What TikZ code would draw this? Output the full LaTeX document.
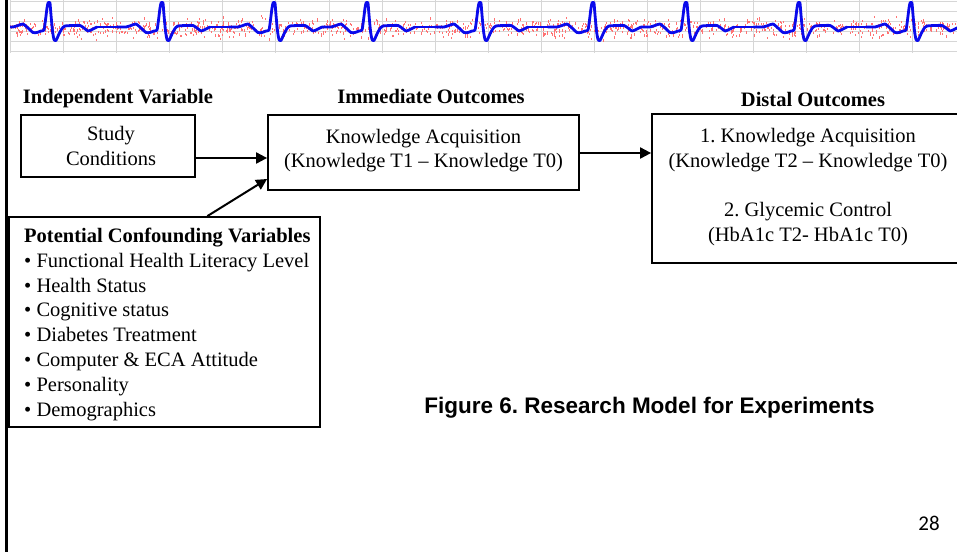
\documentclass[tikz,border=0pt]{standalone}
\usepackage{fontspec}
\setmainfont{Liberation Serif}
\newfontfamily\capfont{Liberation Sans}
\newfontfamily\numfont{Carlito}
\usetikzlibrary{arrows.meta,calc}
\frenchspacing
\begin{document}
\frenchspacing
\begin{tikzpicture}[x=1pt,y=-1pt,
  box/.style={draw=black,line width=1.8pt,inner sep=0pt,fill=none},
  txt/.style={font=\fontsize{20.5}{25}\selectfont,inner sep=0pt},
  head/.style={font=\fontsize{20.5}{25}\selectfont\bfseries,inner sep=0pt},
  arr/.style={line width=2pt,-{Triangle[length=11pt,width=11pt]}},
  ecg/.style={color={rgb,255:red,10;green,10;blue,235},line width=2.8pt,line join=round,line cap=round},
  grid/.style={draw=black!16,line width=0.9pt},
  noise/.style={fill=red!55}]
\clip (0,0) rectangle (957,552);
\fill[white] (0,0) rectangle (957,552);
% ---------- ECG banner ----------
\begin{scope}
\clip (10,0) rectangle (957,53);
\foreach \yy in {1,11,21,31,41,51} {\draw[grid] (10,\yy) -- (957,\yy);}
\foreach \t in {0,318.5,637} {
  \foreach \o in {10.5,63.5,116.5,169.5,222.5,275.5} {\draw[grid] ({\t+\o},0) -- ({\t+\o},53);}
}
\pgfmathsetseed{42}
\foreach \i in {1,...,1300} {
  \pgfmathsetmacro\xx{10+947*rnd}
  \pgfmathsetmacro\yy{27+9*(rnd+rnd+rnd-1.5)}
  \fill[noise] (\xx,\yy) rectangle ++(1,2.2);
}
\foreach \p in {49,162,274,367,480,593,686,799,911} {
  \draw[ecg] plot[smooth,tension=0.35] coordinates {
    ({\p-45},27) ({\p-36},27) ({\p-31},25.5) ({\p-26},24) ({\p-21},28) ({\p-16},32.5)
    ({\p-12},32.5) ({\p-8},31) ({\p-5},30) ({\p-3.5},20) ({\p-2},8) ({\p-1},3) ({\p},2.2)
    ({\p+1},3) ({\p+2},15) ({\p+3.5},31) ({\p+5},39.5) ({\p+7},40.5) ({\p+10},34)
    ({\p+13},28.5) ({\p+16},26) ({\p+24},25.5) ({\p+31},25.5) ({\p+35},28) ({\p+39},31)
    ({\p+43},29.5) ({\p+48},27)};
}
\foreach \a/\b in {97/117,210/229,415/435,528/548,734/754,847/866} {\draw[ecg] (\a,27) -- (\b,27);}
\end{scope}
% left rule
\draw[line width=2.6pt] (6.5,0) -- (6.5,552);
% ---------- headings ----------
\node[head,anchor=base] (h1) at (118,103) {Independent Variable};
\node[head,anchor=base] (h2) at (431,103) {Immediate Outcomes};
\node[head,anchor=base] (h3) at (813,106) {Distal Outcomes};
% ---------- boxes ----------
\node[box,minimum width=174pt,minimum height=62pt] (sc) at (108,146) {};
\node[txt,anchor=base] (sc1) at (111,140) {Study};
\node[txt,anchor=base] (sc2) at (111,165) {Conditions};
\node[box,minimum width=311pt,minimum height=75pt] (ka) at (423.5,152.5) {};
\node[txt,anchor=base] (ka1) at (423.5,143) {Knowledge Acquisition};
\node[txt,anchor=base] (ka2) at (423.5,167.5) {(Knowledge T1 -- Knowledge T0)};
\node[box,minimum width=330pt,minimum height=149pt] (do) at (817,188.5) {};
\node[txt,anchor=base] (do1) at (808,142.5) {1. Knowledge Acquisition};
\node[txt,anchor=base] (do2) at (808,167.5) {(Knowledge T2 -- Knowledge T0)};
\node[txt,anchor=base] (do3) at (808,216.5) {2. Glycemic Control};
\node[txt,anchor=base] (do4) at (808,241.5) {(HbA1c T2- HbA1c T0)};
\node[box,minimum width=311pt,minimum height=210pt] (cv) at (164.5,322) {};
\node[head,anchor=base west] (cv0) at (24,242.5) {Potential Confounding Variables};
\node[txt,anchor=base west] (cv1) at (24,267.3) {• Functional Health Literacy Level};
\node[txt,anchor=base west] (cv2) at (24,292) {• Health Status};
\node[txt,anchor=base west] (cv3) at (24,316.9) {• Cognitive status};
\node[txt,anchor=base west] (cv4) at (24,341.7) {• Diabetes Treatment};
\node[txt,anchor=base west] (cv5) at (24,366.5) {• Computer \& ECA Attitude};
\node[txt,anchor=base west] (cv6) at (24,391.3) {• Personality};
\node[txt,anchor=base west] (cv7) at (24,416) {• Demographics};
% ---------- connectors ----------
\coordinate (y1) at (0,158);
\coordinate (y2) at (0,179);
\coordinate (y3) at (0,153);
\draw[arr] (sc.east |- y1) -- (ka.west |- y1);
\draw[arr] ($(cv.north west)!0.637!(cv.north east)$) -- (ka.west |- y2);
\draw[arr] (ka.east |- y3) -- (do.west |- y3);
% ---------- caption ----------
\node[anchor=base,inner sep=0pt,font=\capfont\fontsize{22.5}{26}\selectfont\bfseries] (cap) at (649.5,413) {Figure 6. Research Model for Experiments};
\node[anchor=base,inner sep=0pt,font=\numfont\fontsize{21}{24}\selectfont] (pg) at (929,530.5) {28};
\end{tikzpicture}
\end{document}
